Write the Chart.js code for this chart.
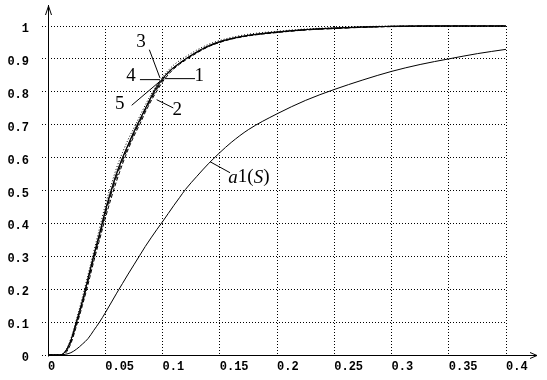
<!DOCTYPE html>
<html><head><meta charset="utf-8">
<script src="https://cdn.jsdelivr.net/npm/chart.js@4.4.1/dist/chart.umd.min.js"></script>
<style>html,body{margin:0;padding:0;background:#fff;}canvas{display:block;}</style>
</head><body>
<canvas id="c" width="547" height="380"></canvas>
<script>
// ---- data ----
const xValues = [0,0.005,0.01,0.015,0.02,0.025,0.03,0.035,0.04,0.045,0.05,0.055,0.06,0.065,0.07,0.075,0.08,0.085,0.09,0.095,0.1,0.105,0.11,0.115,0.12,0.13,0.14,0.15,0.16,0.175,0.2,0.225,0.25,0.275,0.3,0.325,0.35,0.375,0.4];
const curve1 = [0,0,0,0.01,0.045,0.105,0.165,0.235,0.305,0.37,0.44,0.5,0.555,0.6,0.64,0.68,0.715,0.75,0.785,0.817,0.84,0.86,0.875,0.888,0.9,0.922,0.94,0.953,0.962,0.972,0.982,0.989,0.993,0.997,0.999,1,1,1,1];
const curve2 = [0,0,0,0.005,0.035,0.09,0.15,0.215,0.285,0.35,0.415,0.475,0.53,0.58,0.625,0.665,0.70,0.738,0.772,0.802,0.83,0.852,0.87,0.884,0.896,0.918,0.937,0.95,0.96,0.97,0.98,0.988,0.993,0.996,0.998,0.999,1,1,1];
const curve3 = [0,0,0,0.012,0.05,0.11,0.175,0.245,0.315,0.385,0.455,0.515,0.57,0.615,0.655,0.69,0.725,0.76,0.792,0.82,0.845,0.865,0.882,0.895,0.906,0.927,0.944,0.956,0.965,0.975,0.984,0.991,0.995,0.998,1,1,1,1,1];
const curve4 = [0,0,0,0.01,0.045,0.1,0.16,0.23,0.3,0.365,0.435,0.495,0.55,0.597,0.638,0.676,0.712,0.748,0.782,0.812,0.838,0.858,0.874,0.887,0.899,0.92,0.938,0.951,0.961,0.971,0.981,0.989,0.994,0.997,0.999,1,1,1,1];
const curve5 = [0,0,0,0.008,0.04,0.097,0.158,0.225,0.295,0.36,0.428,0.488,0.543,0.59,0.632,0.672,0.708,0.744,0.778,0.808,0.835,0.857,0.873,0.886,0.898,0.92,0.938,0.952,0.961,0.971,0.981,0.988,0.992,0.996,0.999,1,1,1,1];
const curveA1 = [0,0,0,0.002,0.007,0.018,0.033,0.05,0.075,0.1,0.128,0.158,0.188,0.217,0.246,0.274,0.302,0.33,0.356,0.381,0.405,0.43,0.455,0.479,0.503,0.543,0.581,0.615,0.646,0.685,0.733,0.774,0.807,0.836,0.862,0.883,0.9,0.916,0.929];
const seriesNames = ['1','2','3','4','5','a1(S)'];
const xTickLabels = ['0','0.05','0.1','0.15','0.2','0.25','0.3','0.35','0.4'];
const yTickLabels = ['0','0.1','0.2','0.3','0.4','0.5','0.6','0.7','0.8','0.9','1'];

// annotation callouts (in data units)
const callouts = [
  {text:'3', at:[0.0812,0.952], line:[0.0885,0.928,0.0978,0.842]},
  {text:'4', at:[0.0725,0.848], line:[0.0803,0.837,0.0978,0.837]},
  {text:'1', at:[0.1321,0.847], line:[0.1022,0.840,0.1284,0.840]},
  {text:'5', at:[0.0626,0.762], line:[0.0731,0.759,0.0978,0.832]},
  {text:'2', at:[0.1129,0.745], line:[0.0949,0.776,0.1094,0.751]},
  {text:'a1(S)', at:[0.1755,0.5395], line:[0.1415,0.5875,0.159,0.554]}
];

const toPts = ys => xValues.map((x,i)=>({x:x,y:ys[i]}));
const allSeries = [curve1,curve2,curve3,curve4,curve5,curveA1];
const dashes = [[],[4,2],[1,2],[],[6,3],[]];

const datasets = allSeries.map((ys,i)=>({
  label: seriesNames[i],
  data: toPts(ys),
  borderColor:'#000',
  borderWidth:1,
  borderDash:dashes[i],
  pointRadius:0,
  fill:false,
  cubicInterpolationMode:'monotone',
  clip:3
}));

const decor = {
  id:'decor',
  afterDatasetsDraw(chart){
    const ctx = chart.ctx, xs = chart.scales.x, ys = chart.scales.y;
    ctx.save();
    ctx.strokeStyle='#000'; ctx.lineWidth=1; ctx.setLineDash([]);
    const x0 = Math.round(xs.getPixelForValue(0))+0.5;
    const y0 = Math.round(ys.getPixelForValue(0))+0.5;
    ctx.beginPath();
    ctx.moveTo(x0, y0+1); ctx.lineTo(x0, 5);
    ctx.moveTo(x0-3, 15); ctx.lineTo(x0, 6); ctx.lineTo(x0+3, 15);
    ctx.moveTo(x0, y0); ctx.lineTo(537, y0);
    ctx.moveTo(530, y0-3); ctx.lineTo(537, y0); ctx.lineTo(530, y0+3);
    ctx.stroke();
    ctx.fillStyle='#000';
    callouts.forEach(c=>{
      ctx.beginPath();
      ctx.moveTo(xs.getPixelForValue(c.line[0]), ys.getPixelForValue(c.line[1]));
      ctx.lineTo(xs.getPixelForValue(c.line[2]), ys.getPixelForValue(c.line[3]));
      ctx.stroke();
      const px = xs.getPixelForValue(c.at[0]), py = ys.getPixelForValue(c.at[1]);
      ctx.textBaseline='middle';
      if (c.text === 'a1(S)') {
        const parts = [['a',true],['1(',false],['S',true],[')',false]];
        let w = 0;
        parts.forEach(p=>{ctx.font=(p[1]?'italic ':'')+'19px "Liberation Serif"'; w+=ctx.measureText(p[0]).width;});
        let cx = px - w/2;
        ctx.textAlign='left';
        parts.forEach(p=>{ctx.font=(p[1]?'italic ':'')+'19px "Liberation Serif"'; ctx.fillText(p[0],cx,py); cx+=ctx.measureText(p[0]).width;});
      } else {
        ctx.font='19px "Liberation Serif"';
        ctx.textAlign='center';
        ctx.fillText(c.text, px, py);
      }
    });
    ctx.restore();
  }
};

const tickFont = {family:'"Liberation Mono"', size:12, weight:'bold'};

new Chart(document.getElementById('c'), {
  type:'line',
  data:{datasets},
  options:{
    responsive:false,
    animation:false,
    devicePixelRatio:1,
    layout:{padding:{top:26,left:0,right:41,bottom:0}},
    plugins:{legend:{display:false},tooltip:{enabled:false}},
    scales:{
      x:{
        type:'linear', min:0, max:0.4,
        afterBuildTicks(s){ s.ticks = xTickLabels.map(v=>({value:parseFloat(v)})); },
        afterFit(s){ s.height=25; s.paddingLeft=0; s.paddingRight=0; },
        border:{display:false, dash:[1,2]},
        grid:{color:'#000', lineWidth:1, drawTicks:false},
        ticks:{color:'#000', font:tickFont, align:'start', padding:5, maxRotation:0, autoSkip:false,
          callback:(v,i)=>xTickLabels[i]}
      },
      y:{
        type:'linear', min:0, max:1,
        afterBuildTicks(s){ s.ticks = yTickLabels.map(v=>({value:parseFloat(v)})); },
        afterFit(s){ s.width=48; s.paddingTop=0; s.paddingBottom=0; },
        border:{display:false, dash:[1,2]},
        grid:{color:'#000', lineWidth:1, drawTicks:true, tickLength:6, tickColor:'#000', tickBorderDash:[1,2]},
        ticks:{color:'#000', font:tickFont, padding:13, labelOffset:3, autoSkip:false,
          callback:(v,i)=>yTickLabels[i]}
      }
    }
  },
  plugins:[decor]
});
</script>
</body></html>
